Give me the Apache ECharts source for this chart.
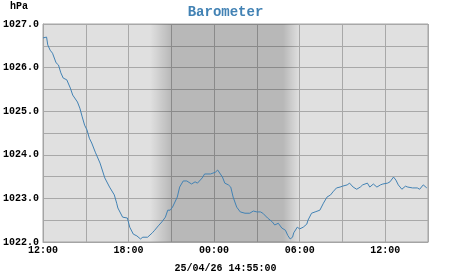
<!DOCTYPE html>
<html><head><meta charset="utf-8">
<script src="https://cdn.jsdelivr.net/npm/echarts@6/dist/echarts.min.js"></script>
<style>html,body{margin:0;padding:0;background:#fff}#c{width:451px;height:275px}</style>
</head><body><div id="c"></div>
<script>
// ---- data ----
const titleText = 'Barometer';
const unitText = 'hPa';
const dateText = '25/04/26 14:55:00';
// minutes after 12:00 on the first day
const xTickLabels = ['12:00', '18:00', '00:00', '06:00', '12:00'];
const minutes = [0,15,20,30,40,55,65,75,85,100,115,125,145,155,165,175,185,195,205,220,240,260,280,300,310,315,335,355,365,380,395,410,420,440,460,470,485,500,515,525,535,545,565,575,590,605,625,640,650,670,680,705,715,725,735,755,765,780,790,800,815,830,850,870,885,900,915,925,945,965,975,990,1005,1020,1030,1040,1050,1055,1070,1080,1095,1110,1115,1130,1145,1165,1180,1195,1210,1220,1235,1250,1260,1280,1290,1305,1320,1335,1345,1365,1375,1390,1405,1420,1430,1450,1460,1475,1485,1495,1510,1525,1535,1555,1575,1585,1600,1605,1615];
const pressure = [1026.68,1026.70,1026.52,1026.40,1026.33,1026.11,1026.06,1025.88,1025.76,1025.72,1025.53,1025.37,1025.21,1025.07,1024.87,1024.68,1024.57,1024.38,1024.27,1024.06,1023.81,1023.47,1023.26,1023.08,1022.89,1022.78,1022.57,1022.55,1022.34,1022.18,1022.14,1022.07,1022.11,1022.11,1022.21,1022.27,1022.37,1022.46,1022.57,1022.73,1022.73,1022.80,1023.03,1023.26,1023.40,1023.40,1023.33,1023.38,1023.35,1023.47,1023.56,1023.56,1023.58,1023.60,1023.65,1023.49,1023.35,1023.31,1023.26,1023.03,1022.80,1022.69,1022.66,1022.66,1022.71,1022.69,1022.69,1022.66,1022.55,1022.46,1022.39,1022.43,1022.32,1022.27,1022.15,1022.07,1022.11,1022.21,1022.34,1022.30,1022.34,1022.41,1022.50,1022.66,1022.69,1022.73,1022.89,1023.03,1023.08,1023.15,1023.24,1023.26,1023.28,1023.31,1023.35,1023.26,1023.21,1023.26,1023.31,1023.35,1023.26,1023.33,1023.26,1023.31,1023.33,1023.35,1023.38,1023.49,1023.42,1023.31,1023.21,1023.28,1023.26,1023.24,1023.24,1023.21,1023.31,1023.35,1023.24];
// night shading (minutes after 12:00): fade in, full dark, fade out
const nightTimes = [450, 540, 1010, 1080];

// ---- chart ----
const FONT = 'Liberation Mono';
const xMin = 0, xMax = 1620, yMin = 1022, yMax = 1027;
const span = nightTimes[3] - nightTimes[0];
const shade = new echarts.graphic.LinearGradient(0, 0, 1, 0, [
  {offset: 0, color: 'rgba(0,0,0,0)'},
  {offset: (nightTimes[1] - nightTimes[0]) / span, color: 'rgba(0,0,0,0.18)'},
  {offset: (nightTimes[2] - nightTimes[0]) / span, color: 'rgba(0,0,0,0.18)'},
  {offset: 1, color: 'rgba(0,0,0,0)'}
]);
const chart = echarts.init(document.getElementById('c'), null, {renderer: 'canvas'});
chart.setOption({
  animation: false,
  backgroundColor: '#ffffff',
  title: {
    text: titleText, left: 'center', top: 0,
    textStyle: {fontFamily: FONT, fontWeight: 'bold', fontSize: 14, color: '#4282b4'}
  },
  graphic: [
    {type: 'text', left: 10, top: 1, style: {text: unitText, font: 'bold 10px "Liberation Mono"', fill: '#000'}},
    {type: 'text', left: 'center', top: 263, style: {text: dateText, font: 'bold 10px "Liberation Mono"', fill: '#000'}}
  ],
  grid: {left: 43, right: 23, top: 24, bottom: 33, show: true, backgroundColor: '#e0e0e0', borderColor: '#a4a4a4', borderWidth: 1},
  xAxis: {
    type: 'value', min: xMin, max: xMax, interval: 180,
    axisLine: {show: true, lineStyle: {color: '#a4a4a4', width: 1}},
    axisTick: {show: false},
    splitLine: {show: true, lineStyle: {color: '#a8a8a8', width: 1}},
    axisLabel: {
      margin: 3, fontFamily: FONT, fontWeight: 'bold', fontSize: 10, color: '#000',
      showMinLabel: true, showMaxLabel: true,
      formatter: v => (v % 360 === 0 && xTickLabels[v / 360] !== undefined) ? xTickLabels[v / 360] : ''
    }
  },
  yAxis: {
    type: 'value', min: yMin, max: yMax, interval: 0.5,
    axisLine: {show: true, lineStyle: {color: '#a4a4a4', width: 1}},
    axisTick: {show: false},
    splitLine: {show: true, lineStyle: {color: '#a8a8a8', width: 1}},
    axisLabel: {
      margin: 4, fontFamily: FONT, fontWeight: 'bold', fontSize: 10, color: '#000',
      formatter: v => Math.abs(v - Math.round(v)) < 1e-6 ? v.toFixed(1) : ''
    }
  },
  series: [{
    type: 'line',
    data: minutes.map((m, i) => [m, pressure[i]]),
    showSymbol: false, symbol: 'none',
    lineStyle: {color: '#4282b4', width: 1},
    markArea: {
      silent: true,
      itemStyle: {color: shade},
      data: [[{xAxis: nightTimes[0]}, {xAxis: nightTimes[3]}]]
    }
  }]
});
</script></body></html>
